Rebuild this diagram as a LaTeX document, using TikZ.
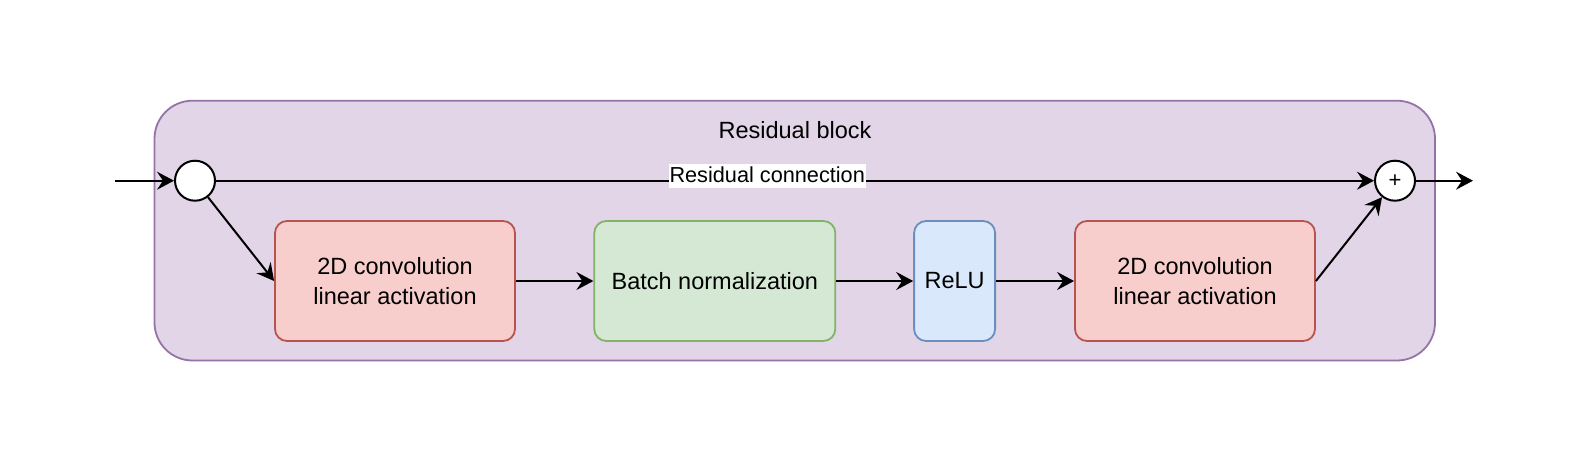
\documentclass[tikz,border=0pt]{standalone}
\usepackage{fontspec}
\setmainfont{Liberation Sans}
\usetikzlibrary{arrows.meta}
\definecolor{purfill}{HTML}{E1D5E7}
\definecolor{purdraw}{HTML}{9673A6}
\definecolor{redfill}{HTML}{F8CECC}
\definecolor{reddraw}{HTML}{B85450}
\definecolor{grnfill}{HTML}{D5E8D4}
\definecolor{grndraw}{HTML}{82B366}
\definecolor{blufill}{HTML}{DAE8FC}
\definecolor{bludraw}{HTML}{6C8EBF}
\tikzset{
  blk/.style={draw, line width=1.8pt, rounded corners=12pt, minimum height=120pt, align=center,
    font=\fontsize{23.5}{30}\selectfont, inner sep=0pt},
  convbox/.style={blk, fill=redfill, draw=reddraw, minimum width=240pt},
  bnbox/.style={blk, fill=grnfill, draw=grndraw, minimum width=241pt},
  relubox/.style={blk, fill=blufill, draw=bludraw, minimum width=81pt},
  junc/.style={circle, draw=black, fill=white, line width=2pt, minimum size=40pt, inner sep=0pt,
    font=\fontsize{22}{24}\selectfont},
  conn/.style={line width=2pt, -{Stealth[length=17pt, width=18pt, inset=6pt]}},
}
\begin{document}
\begin{tikzpicture}[x=1pt,y=-1pt]
\useasboundingbox (0,0) rectangle (1592,464);
\draw[fill=purfill, draw=purdraw, line width=1.8pt, rounded corners=38pt] (154.5,100.7) rectangle (1435,360.5);
\node[font=\fontsize{23.5}{28}\selectfont] (title) at (795,130) {Residual block};
\node[junc] (split) at (195,180.7) {};
\node[junc] (plus) at (1395,180.7) {+};
\node[convbox] (conv1) at (395,281) {2D convolution\\linear activation};
\node[bnbox] (bn) at (714.8,281) {Batch normalization};
\node[relubox] (relu) at (954.6,281) {ReLU};
\node[convbox] (conv2) at (1195,281) {2D convolution\\linear activation};
\coordinate (in) at (115,180.7);
\coordinate (out) at (1473,180.7);
\draw[conn] (in) -- (split);
\draw[conn] (split) -- node[pos=0.476, yshift=4.5pt, fill=white, inner sep=1pt, text height=17pt, text depth=5pt,
  font=\fontsize{21.7}{24}\selectfont] (rclabel) {Residual connection} (plus);
\draw[conn] (split) -- (conv1.west);
\draw[conn] (conv1) -- (bn);
\draw[conn] (bn) -- (relu);
\draw[conn] (relu) -- (conv2);
\draw[conn] (conv2.east) -- (plus);
\draw[conn] (plus) -- (out);
\end{tikzpicture}
\end{document}
